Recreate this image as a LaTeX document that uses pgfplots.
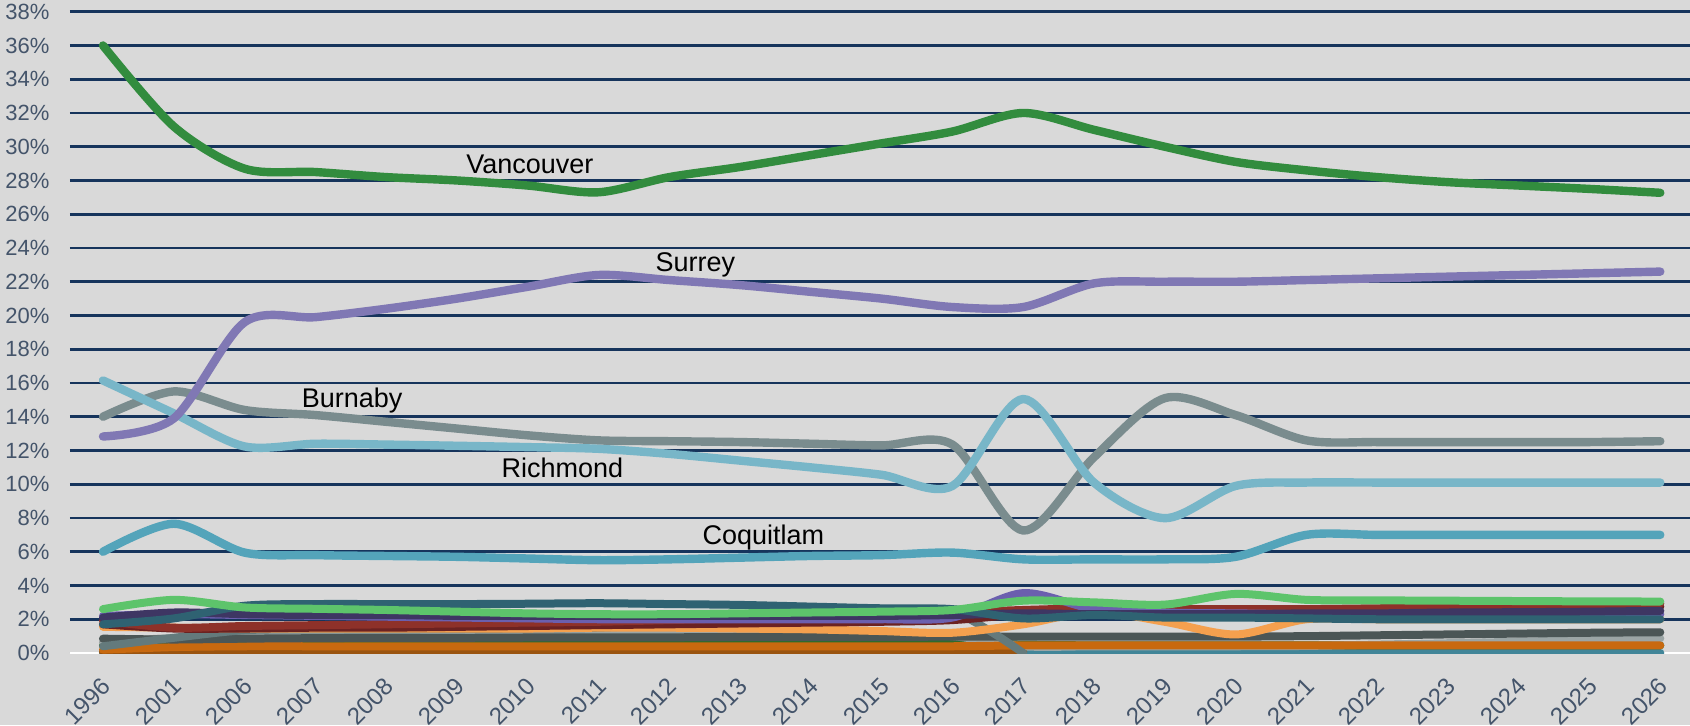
\documentclass[border=0pt]{standalone}
\usepackage{pgfplots}
\pgfplotsset{compat=1.18}
\usepackage{pgfplotstable}
\usepackage{fontspec}
\setmainfont{Liberation Sans}

\definecolor{bgcol}{RGB}{217,217,217}
\definecolor{gridnavy}{RGB}{22,52,92}
\definecolor{ticktext}{RGB}{68,84,106}
\definecolor{cvan}{RGB}{50,140,62}
\definecolor{csur}{RGB}{128,120,180}
\definecolor{cbur}{RGB}{122,140,142}
\definecolor{cric}{RGB}{120,182,200}
\definecolor{ccoq}{RGB}{84,164,186}
\definecolor{c1}{RGB}{93,196,107}
\definecolor{c2}{RGB}{47,98,114}
\definecolor{c3}{RGB}{62,54,99}
\definecolor{c4}{RGB}{107,95,174}
\definecolor{c5}{RGB}{142,49,41}
\definecolor{c6}{RGB}{107,34,33}
\definecolor{c7}{RGB}{244,160,78}
\definecolor{c8}{RGB}{75,86,86}
\definecolor{c9}{RGB}{155,165,165}
\definecolor{c10}{RGB}{100,122,124}
\definecolor{c11}{RGB}{46,107,46}
\definecolor{c12}{RGB}{200,105,15}
\definecolor{c13}{RGB}{154,84,16}
\definecolor{c14}{RGB}{65,133,152}

\pgfplotstableread{
i  van   sur   bur   ric   coq   s1   s2   s3   s4   s5   s6   s7   s8   s9   s10  s11  s12  s13  s14
0  36.0  12.83 14.0  16.15 6.0   2.6  1.7  2.1  2.2  1.9  1.7  1.55 0.85 0.65 0.4  0.45 0.2  0.05 0.03
1  31.2  13.9  15.5  14.2  7.66  3.15 2.05 2.4  2.3  1.5  1.45 1.5  0.8  0.9  0.9  0.5  0.35 0.05 0.03
2  28.7  19.6  14.4  12.24 5.95  2.7  2.8  2.3  2.25 1.6  1.45 1.45 0.85 1.1  1.35 0.55 0.4  0.05 0.03
3  28.5  19.9  14.1  12.4  5.8   2.62 2.9  2.25 2.2  1.65 1.5  1.45 0.88 1.15 1.4  0.55 0.4  0.05 0.03
4  28.2  20.4  13.7  12.35 5.75  2.55 2.9  2.25 2.15 1.7  1.5  1.45 0.9  1.15 1.4  0.55 0.4  0.05 0.03
5  28.0  21.0  13.3  12.28 5.7   2.45 2.9  2.2  2.1  1.75 1.55 1.45 0.9  1.15 1.42 0.55 0.4  0.05 0.03
6  27.7  21.7  12.9  12.2  5.6   2.35 2.92 2.2  2.05 1.8  1.6  1.45 0.92 1.15 1.45 0.55 0.4  0.05 0.03
7  27.3  22.4  12.6  12.1  5.5   2.3  2.95 2.2  2.0  1.85 1.65 1.5  0.92 1.15 1.5  0.55 0.4  0.05 0.03
8  28.2  22.1  12.55 11.8  5.55  2.3  2.9  2.2  2.0  1.95 1.7  1.5  0.93 1.12 1.7  0.55 0.4  0.05 0.03
9  28.8  21.8  12.5  11.4  5.65  2.35 2.85 2.2  2.0  2.05 1.75 1.45 0.95 1.1  1.95 0.55 0.4  0.05 0.03
10 29.5  21.4  12.4  11.0  5.75  2.4  2.75 2.2  2.0  2.15 1.8  1.4  0.95 1.08 2.1  0.55 0.4  0.05 0.03
11 30.2  21.0  12.3  10.56 5.8   2.45 2.65 2.2  2.0  2.25 1.85 1.3  0.95 1.05 2.25 0.55 0.4  0.05 0.03
12 30.9  20.5  12.35 9.9   5.95  2.55 2.6  2.25 2.1  2.4  1.95 1.2  0.97 1.0  2.45 0.55 0.4  0.05 0.03
13 32.0  20.5  7.26  15.05 5.55  3.1  2.05 2.35 3.55 2.55 2.3  1.7  0.97 0.4  0.0  0.5  0.45 0.05 0.03
14 31.0  21.9  11.6  10.1  5.55  3.0  2.25 2.3  2.6  2.65 2.5  2.45 0.97 0.4  nan  0.45 0.45 nan  0.03
15 30.0  22.0  15.1  7.99  5.55  2.87 2.1  2.3  2.4  2.6  2.55 1.85 0.97 0.4  nan  0.45 0.45 nan  0.03
16 29.1  22.0  14.1  9.9   5.7   3.5  2.1  2.3  2.35 2.6  2.55 1.1  0.97 0.4  nan  0.45 0.45 nan  0.03
17 28.6  22.1  12.6  10.1  7.0   3.15 2.05 2.35 2.3  2.6  2.55 2.0  1.0  0.42 nan  0.45 0.45 nan  0.03
18 28.2  22.2  12.5  10.1  7.0   3.12 2.0  2.35 2.3  2.65 2.6  2.0  1.05 0.5  nan  0.45 0.45 nan  0.03
19 27.9  22.3  12.5  10.1  7.0   3.1  2.0  2.4  2.3  2.7  2.6  2.0  1.1  0.58 nan  0.45 0.45 nan  0.03
20 27.7  22.4  12.5  10.1  7.0   3.08 2.0  2.42 2.3  2.75 2.65 2.0  1.15 0.67 nan  0.45 0.45 nan  0.03
21 27.5  22.5  12.5  10.1  7.0   3.06 2.0  2.45 2.3  2.85 2.7  2.0  1.2  0.77 nan  0.45 0.45 nan  0.03
22 27.27 22.6  12.55 10.1  7.0   3.05 2.0  2.5  2.3  2.94 2.75 2.0  1.23 0.87 nan  0.45 0.45 nan  0.03
}\data

\begin{document}
\begin{tikzpicture}
\fill[bgcol] (-35pt,-36pt) rectangle (810pt,326.5pt);
\begin{axis}[
  scale only axis, width=810pt, height=320.65pt,
  xmin=-0.466, xmax=22.42, ymin=0, ymax=38,
  axis line style={draw=none},
  xtick={0,...,22},
  xticklabels={1996,2001,2006,2007,2008,2009,2010,2011,2012,2013,2014,2015,2016,2017,2018,2019,2020,2021,2022,2023,2024,2025,2026},
  ytick={0,2,...,38},
  yticklabel={\pgfmathparse{int(round(\tick))}\pgfmathresult\%},
  major tick length=0pt,
  ymajorgrids,
  grid style={color=gridnavy, line width=1.4pt},
  extra y ticks={0}, extra y tick labels={},
  extra y tick style={grid style={white, line width=1.4pt}},
  tick label style={font=\fontsize{11}{13}\selectfont, text=ticktext},
  xticklabel style={font=\fontsize{12}{14}\selectfont, inner sep=1pt, xshift=2.5pt, yshift=-14pt, rotate=45, anchor=east},
  yticklabel style={xshift=-6.8pt},
  every axis plot/.append style={smooth, no markers, line cap=round, line join=round, line width=4pt},
  unbounded coords=discard,
]
\addplot[c14] table[x=i,y=s14]{\data};
\addplot[c13] table[x=i,y=s13]{\data};
\addplot[c11] table[x=i,y=s11]{\data};
\addplot[c9] table[x=i,y=s9]{\data};
\addplot[c12] table[x=i,y=s12]{\data};
\addplot[c8] table[x=i,y=s8]{\data};
\addplot[c10] table[x=i,y=s10]{\data};
\addplot[c7] table[x=i,y=s7]{\data};
\addplot[c6] table[x=i,y=s6]{\data};
\addplot[c5] table[x=i,y=s5]{\data};
\addplot[c4] table[x=i,y=s4]{\data};
\addplot[c3] table[x=i,y=s3]{\data};
\addplot[c2] table[x=i,y=s2]{\data};
\addplot[c1] table[x=i,y=s1]{\data};
\addplot[ccoq, line width=4.2pt] table[x=i,y=coq]{\data};
\addplot[cbur, line width=4.2pt] table[x=i,y=bur]{\data};
\addplot[cric, line width=4.2pt] table[x=i,y=ric]{\data};
\addplot[csur, line width=4.2pt] table[x=i,y=sur]{\data};
\addplot[cvan, line width=4.2pt] table[x=i,y=van]{\data};
\node[anchor=base, font=\fontsize{13.5}{16}\selectfont] at (axis cs:6.03,28.41) {Vancouver};
\node[anchor=base, font=\fontsize{13.5}{16}\selectfont] at (axis cs:8.37,22.62) {Surrey};
\node[anchor=base, font=\fontsize{13.5}{16}\selectfont] at (axis cs:3.52,14.53) {Burnaby};
\node[anchor=base, font=\fontsize{13.5}{16}\selectfont] at (axis cs:6.49,10.41) {Richmond};
\node[anchor=base, font=\fontsize{13.5}{16}\selectfont] at (axis cs:9.33,6.45) {Coquitlam};
\end{axis}
\pgfresetboundingbox
\useasboundingbox (-35pt,-36pt) rectangle (810pt,326.5pt);
\end{tikzpicture}
\end{document}
